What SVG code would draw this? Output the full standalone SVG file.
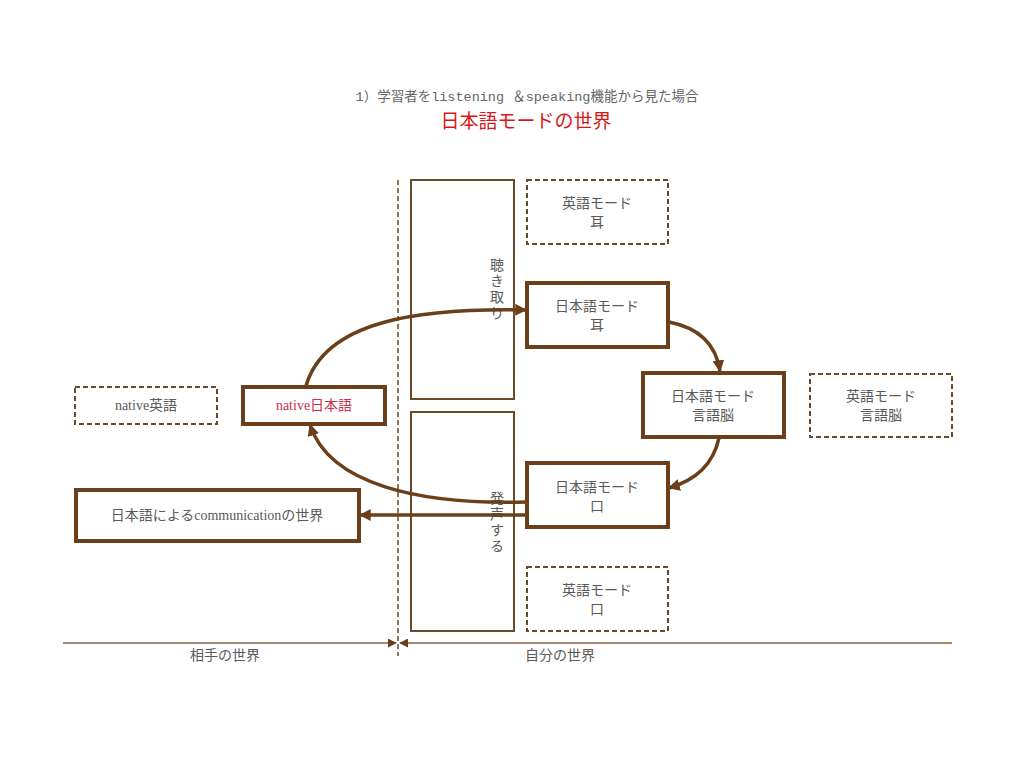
<svg xmlns="http://www.w3.org/2000/svg" width="1024" height="771" viewBox="0 0 1024 771">
<defs>
<marker id="ah" viewBox="0 0 10 10" refX="9" refY="5" markerWidth="3.4" markerHeight="3.4" orient="auto-start-reverse" markerUnits="strokeWidth">
<path d="M0,0 L10,5 L0,10 Z" fill="#6b3f1a"/>
</marker>
<marker id="ah2" viewBox="0 0 10 10" refX="9" refY="5" markerWidth="6" markerHeight="6" orient="auto" markerUnits="strokeWidth">
<path d="M0,0 L10,5 L0,10 Z" fill="#6b3f1a"/>
</marker>
<style>
.t{font-family:"Liberation Serif","Noto Sans CJK JP",serif;font-size:14px;fill:#5a5a5a;text-anchor:middle}
.thick{fill:#fff;stroke:#6b3f1a;stroke-width:4}
.thin{fill:#fff;stroke:#6b4a2a;stroke-width:2}
.dash{fill:#fff;stroke:#6b4a2a;stroke-width:2;stroke-dasharray:5,3}
.c{fill:none;stroke:#6b3f1a;stroke-width:3.5}
</style>
</defs>
<rect width="1024" height="771" fill="#fff"/>
<g id="title">
<text x="527" y="101" style="font-family:'Liberation Mono','Noto Sans CJK JP',monospace;font-size:13.5px;fill:#666;text-anchor:middle">1）学習者をlistening ＆speaking機能から見た場合</text>
<text x="526" y="128" style="font-family:'Noto Sans CJK JP',sans-serif;font-size:19px;fill:#d81818;text-anchor:middle">日本語モードの世界</text>
</g>
<g id="divider">
<line x1="398" y1="180" x2="398" y2="656" stroke="#6b4a2a" stroke-width="1.5" stroke-dasharray="5,3"/>
<line x1="63" y1="643" x2="396" y2="643" stroke="#8a6040" stroke-width="1.5" marker-end="url(#ah2)"/>
<line x1="952" y1="643" x2="400" y2="643" stroke="#8a6040" stroke-width="1.5" marker-end="url(#ah2)"/>
<text class="t" x="225" y="660">相手の世界</text>
<text class="t" x="560" y="660">自分の世界</text>
</g>
<g id="listen-col">
<rect class="thin" x="411" y="180" width="103" height="219"/>
<text class="t" x="497" y="270">聴</text>
<text class="t" x="497" y="286">き</text>
<text class="t" x="497" y="302">取</text>
<text class="t" x="497" y="318">り</text>
</g>
<g id="speak-col">
<rect class="thin" x="411" y="412" width="103" height="219"/>
<text class="t" x="497" y="503">発</text>
<text class="t" x="497" y="519">声</text>
<text class="t" x="497" y="535">す</text>
<text class="t" x="497" y="551">る</text>
</g>
<g id="connectors">
<path class="c" d="M306,386 C325,320 420,308 526,310" marker-end="url(#ah)"/>
<path class="c" d="M669,322 C700,328 716,345 720,371" marker-end="url(#ah)"/>
<path class="c" d="M719,438 C713,465 696,480 669,488" marker-end="url(#ah)"/>
<path class="c" d="M527,502 C420,505 330,485 310,425" marker-end="url(#ah)"/>
<path class="c" d="M527,515 L360,515" marker-end="url(#ah)"/>
</g>
<g id="en-ear">
<rect class="dash" x="527" y="180" width="141" height="64"/>
<text class="t" x="597" y="208">英語モード</text>
<text class="t" x="597" y="227">耳</text>
</g>
<g id="jp-ear">
<rect class="thick" x="527" y="283" width="141" height="64"/>
<text class="t" x="597" y="311">日本語モード</text>
<text class="t" x="597" y="330">耳</text>
</g>
<g id="jp-brain">
<rect class="thick" x="643" y="373" width="141" height="64"/>
<text class="t" x="713" y="401">日本語モード</text>
<text class="t" x="713" y="420">言語脳</text>
</g>
<g id="en-brain">
<rect class="dash" x="810" y="374" width="142" height="63"/>
<text class="t" x="881" y="401">英語モード</text>
<text class="t" x="881" y="420">言語脳</text>
</g>
<g id="jp-mouth">
<rect class="thick" x="527" y="463" width="141" height="64"/>
<text class="t" x="597" y="492">日本語モード</text>
<text class="t" x="597" y="511">口</text>
</g>
<g id="en-mouth">
<rect class="dash" x="527" y="567" width="141" height="64"/>
<text class="t" x="597" y="595">英語モード</text>
<text class="t" x="597" y="614">口</text>
</g>
<g id="native-en">
<rect class="dash" x="75" y="387" width="142" height="37"/>
<text class="t" x="146" y="410">native英語</text>
</g>
<g id="native-jp">
<rect class="thick" x="243" y="387" width="142" height="37"/>
<text class="t" x="314" y="410" style="fill:#c8304a">native日本語</text>
</g>
<g id="comm">
<rect class="thick" x="76" y="490" width="283" height="51"/>
<text class="t" x="217" y="520">日本語によるcommunicationの世界</text>
</g>
</svg>
